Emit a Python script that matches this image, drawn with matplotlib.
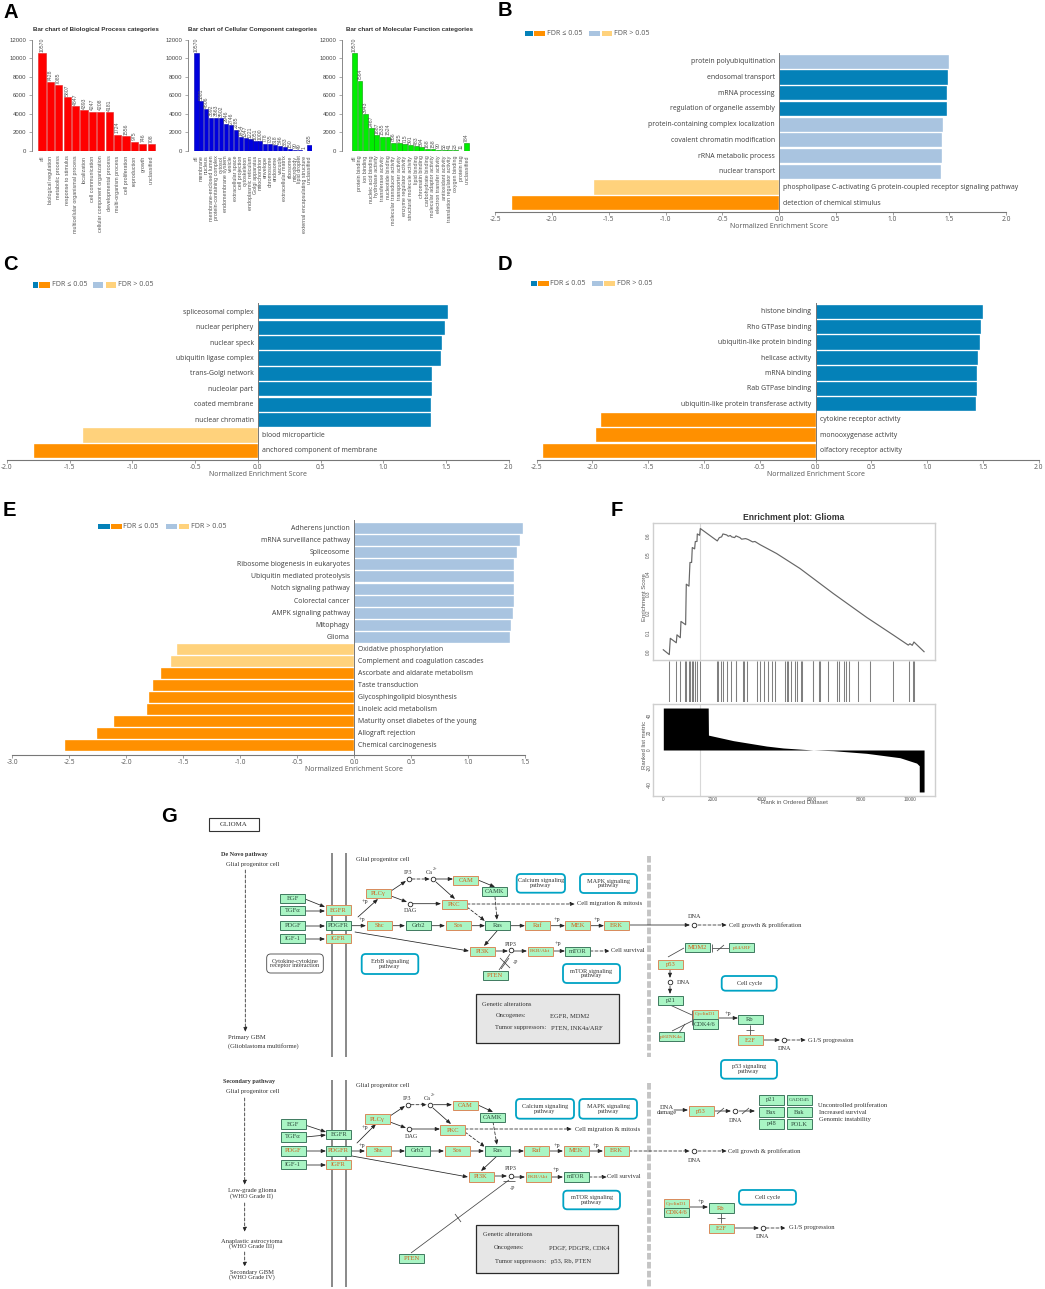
import matplotlib
matplotlib.use('Agg')
import matplotlib.pyplot as plt
from matplotlib.patches import FancyBboxPatch, Rectangle

W, H = 1045, 1289
SANS = ['Open Sans', 'DejaVu Sans']
ARIAL = ['Liberation Sans', 'DejaVu Sans']
SERIF = ['Liberation Serif', 'DejaVu Serif']

# ---------- Panel A ----------
bp_labels = ['all', 'biological regulation', 'metabolic process', 'response to stimulus',
             'multicellular organismal process', 'localization', 'cell communication',
             'cellular component organization', 'developmental process', 'multi-organism process',
             'cell proliferation', 'reproduction', 'growth', 'unclassified']
bp_values = [10570, 7428, 7085, 5807, 4847, 4393, 4247, 4208, 4181, 1724, 1556, 975, 746, 708]
cc_labels = ['all', 'membrane', 'nucleus', 'membrane-enclosed lumen', 'protein-containing complex',
             'cytosol', 'endomembrane system', 'vesicle', 'extracellular space', 'cell projection',
             'cytoskeleton', 'endoplasmic reticulum', 'Golgi apparatus', 'mitochondrion', 'envelope',
             'chromosome', 'endosome', 'vacuole', 'extracellular matrix', 'ribosome', 'microbody',
             'lipid droplet', 'external encapsulating structure', 'unclassified']
cc_values = [10570, 5381, 4506, 3592, 3563, 3502, 2946, 2746, 2285, 1454, 1347, 1221, 1051, 1000,
             778, 735, 618, 546, 383, 150, 90, 49, 1, 635]
mf_labels = ['all', 'protein binding', 'ion binding', 'nucleic acid binding', 'hydrolase activity',
             'transferase activity', 'nucleotide binding', 'molecular transducer activity',
             'transporter activity', 'enzyme regulator activity', 'structural molecule activity',
             'lipid binding', 'chromatin binding', 'carbohydrate binding', 'molecular adaptor activity',
             'electron transfer activity', 'antioxidant activity', 'translation regulator activity',
             'oxygen binding', 'protein tag', 'unclassified']
mf_values = [10570, 7564, 3943, 2467, 1687, 1535, 1524, 856, 825, 715, 591, 483, 394, 168, 158,
             90, 53, 41, 23, 11, 784]

# ---------- Panels B-E ----------
DB, LB, OR, LO = '#0481b8', '#a9c4e0', '#ff9000', '#ffd27c'
b_labels = ['protein polyubiquitination', 'endosomal transport', 'mRNA processing',
            'regulation of organelle assembly', 'protein-containing complex localization',
            'covalent chromatin modification', 'rRNA metabolic process', 'nuclear transport',
            'phospholipase C-activating G protein-coupled receptor signaling pathway',
            'detection of chemical stimulus']
b_values = [1.50, 1.49, 1.48, 1.48, 1.447, 1.44, 1.435, 1.43, -1.634, -2.35]
b_colors = [LB, DB, DB, DB, LB, LB, LB, LB, LO, OR]
c_labels = ['spliceosomal complex', 'nuclear periphery', 'nuclear speck', 'ubiquitin ligase complex',
            'trans-Golgi network', 'nucleolar part', 'coated membrane', 'nuclear chromatin',
            'blood microparticle', 'anchored component of membrane']
c_values = [1.512, 1.49, 1.469, 1.458, 1.39, 1.388, 1.383, 1.38, -1.394, -1.785]
c_colors = [DB] * 8 + [LO, OR]
d_labels = ['histone binding', 'Rho GTPase binding', 'ubiquitin-like protein binding', 'helicase activity',
            'mRNA binding', 'Rab GTPase binding', 'ubiquitin-like protein transferase activity',
            'cytokine receptor activity', 'monooxygenase activity', 'olfactory receptor activity']
d_values = [1.50, 1.486, 1.47, 1.46, 1.444, 1.444, 1.438, -1.92, -1.965, -2.444]
d_colors = [DB] * 7 + [OR] * 3
e_labels = ['Adherens junction', 'mRNA surveillance pathway', 'Spliceosome', 'Ribosome biogenesis in eukaryotes',
            'Ubiquitin mediated proteolysis', 'Notch signaling pathway', 'Colorectal cancer',
            'AMPK signaling pathway', 'Mitophagy', 'Glioma', 'Oxidative phosphorylation',
            'Complement and coagulation cascades', 'Ascorbate and aldarate metabolism', 'Taste transduction',
            'Glycosphingolipid biosynthesis', 'Linoleic acid metabolism', 'Maturity onset diabetes of the young',
            'Allograft rejection', 'Chemical carcinogenesis']
e_values = [1.483, 1.459, 1.429, 1.405, 1.405, 1.402, 1.402, 1.393, 1.378, 1.372,
            -1.559, -1.604, -1.692, -1.767, -1.804, -1.816, -2.106, -2.26, -2.535]
e_colors = [LB] * 10 + [LO] * 2 + [OR] * 7

# ---------- Panel F ----------
es_rank = [0, 243, 284, 527, 554, 689, 716, 905, 932, 1040, 1081, 1148, 1175, 1270, 1297, 1365, 1378,
           1473, 1500, 2189, 2270, 2364, 2418, 2567, 2634, 2716, 2770, 2891, 2945, 3107, 3175, 3337,
           3445, 3621, 3715, 3918, 4593, 5539, 6890, 8241, 9322, 9930, 9997, 10092, 10160, 10570]
es_score = [.01, -.015, .069, .046, .087, .072, .156, .139, .348, .338, .46, .46, .537, .53, .568, .568,
            .607, .60, .635, .571, .588, .592, .607, .602, .595, .599, .592, .588, .597, .588, .58, .583,
            .578, .566, .568, .552, .506, .429, .30, .177, .086, .034, .041, .033, .05, .0]
hit_ranks = [243, 527, 675, 892, 919, 1027, 1081, 1148, 1189, 1283, 1365, 1500, 2189, 2229, 2337, 2418,
             2567, 2729, 2931, 2945, 3215, 3283, 3378, 3810, 3918, 4080, 4256, 4404, 4526, 4945, 4999,
             5066, 5161, 5337, 5404, 5566, 5634, 6052, 6079, 6323, 6363, 6674, 7052, 7133, 7322, 7390,
             7539, 7903, 8363, 9322, 9970, 10132, 10160]
metric_rank = [0, 1820, 1830, 2837, 4188, 4863, 6079, 6890, 8241, 9592, 10268, 10375, 10376, 10570]
metric_value = [48, 48, 17, 10.7, 4.5, 2.3, 0, -0.8, -3.8, -8.8, -15, -18, -48, -48]

fig = plt.figure(figsize=(W / 100, H / 100), dpi=100, facecolor='white')
bg = fig.add_axes([0, 0, 1, 1])
bg.set_xlim(0, W)
bg.set_ylim(H, 0)
bg.axis('off')


def place(l, t, r, b):
    a = fig.add_axes([l / W, 1 - b / H, (r - l) / W, (b - t) / H])
    a.patch.set_alpha(0)
    return a


for s, x, y in [('A', 3, 12), ('B', 498, 11), ('C', 3, 265), ('D', 498, 265), ('E', 3, 511), ('F', 611, 510), ('G', 161, 817)]:
    bg.text(x, y, s, family=ARIAL, weight='bold', fontsize=14.5, ha='left', va='center', color='black')


# ---------- A ----------
def panel_a(labels, values, color, edge, left, right, axis_x, title, title_x):
    a = place(left, 40, right, 150.7)
    n = len(values)
    a.bar(range(n), values, width=0.86, color=color, edgecolor=edge, linewidth=0.4)
    a.set_xlim(-0.5, n - 0.5)
    a.set_ylim(0, 12000)
    for s in ['top', 'right', 'bottom']:
        a.spines[s].set_visible(False)
    a.spines['left'].set_position(('outward', (left - axis_x) * 0.72))
    a.spines['left'].set_color('#888888')
    a.spines['left'].set_linewidth(0.7)
    a.set_yticks(range(0, 12001, 2000))
    a.tick_params(axis='y', length=2.5, width=0.5, color='#888888', labelsize=4.3, labelcolor='#444444', pad=1.5)
    for t in a.get_yticklabels():
        t.set_family(ARIAL)
    a.set_xticks(range(n))
    a.set_xticklabels(labels, rotation=90, fontsize=3.9, color='#555555', family=ARIAL, va='top', ha='center')
    a.tick_params(axis='x', length=0, pad=3.5)
    for i, v in enumerate(values):
        a.text(i, v + 150, str(v), rotation=90, fontsize=3.7, color='#555555', family=ARIAL, ha='center', va='bottom', clip_on=False)
    bg.text(title_x, 29.3, title, family=ARIAL, weight='bold', fontsize=4.5, color='#333333', ha='center', va='center')


panel_a(bp_labels, bp_values, '#ff0000', '#e02020', 37.7, 155.5, 32, 'Bar chart of Biological Process categories', 96)
panel_a(cc_labels, cc_values, '#0000dd', '#0000aa', 194, 312, 188, 'Bar chart of Cellular Component categories', 253)
panel_a(mf_labels, mf_values, '#00ee00', '#009900', 351.5, 469.5, 342, 'Bar chart of Molecular Function categories', 410)


# ---------- B-E ----------
def panel_bar(labels, values, colors, xlo, xhi, pxlo, pxhi, top, bottom, first, spacing, barh, ticks, fs=4.95):
    a = place(pxlo, top, pxhi, bottom)
    a.set_xlim(xlo, xhi)
    a.set_ylim((bottom - first) / spacing, (top - first) / spacing)
    y = list(range(len(values)))
    a.barh(y, values, height=barh / spacing, color=colors, edgecolor='white', linewidth=0.25, zorder=2)
    a.axvline(0, color='#777777', lw=0.7, zorder=3)
    for s in ['top', 'left', 'right']:
        a.spines[s].set_visible(False)
    a.spines['bottom'].set_color('#777777')
    a.spines['bottom'].set_linewidth(0.8)
    a.set_yticks([])
    a.set_xticks(ticks)
    a.set_xticklabels(['%.1f' % t for t in ticks], family=SANS, fontsize=4.8, color='#555555')
    a.tick_params(axis='x', length=2, width=0.5, color='#777777', pad=1)
    off = 4.2 * (xhi - xlo) / (pxhi - pxlo)
    for yi, v, lab in zip(y, values, labels):
        if v > 0:
            a.text(-off, yi, lab, ha='right', va='center', family=SANS, fontsize=fs, color='#3c3c3c')
        else:
            a.text(off, yi, lab, ha='left', va='center', family=SANS, fontsize=fs, color='#3c3c3c')
    bg.text(pxlo + (0 - xlo) / (xhi - xlo) * (pxhi - pxlo), bottom + 14.3, 'Normalized Enrichment Score',
            family=SANS, fontsize=5.0, color='#555555', ha='center', va='center')


def legend(y, a1, a2, o1, o2, t1, b1, b2, l1, l2, t2, h=5.2):
    for x1, x2, c in [(a1, a2, DB), (o1, o2, OR), (b1, b2, LB), (l1, l2, LO)]:
        bg.add_patch(Rectangle((x1, y - h / 2), x2 - x1, h, facecolor=c, edgecolor='none'))
    bg.text(t1, y, 'FDR ≤ 0.05', family=SANS, fontsize=5.1, color='#555555', va='center')
    bg.text(t2, y, 'FDR > 0.05', family=SANS, fontsize=5.1, color='#555555', va='center')


panel_bar(b_labels, b_values, b_colors, -2.5, 2.0, 495.3, 1006, 52.7, 212, 61.7, 15.73, 14.2, [-2.5, -2, -1.5, -1, -.5, 0, .5, 1, 1.5, 2])
legend(33.3, 525.4, 532.5, 533.9, 544.9, 546.6, 589, 599.7, 601.5, 612, 614)
panel_bar(c_labels, c_values, c_colors, -2.0, 2.0, 6.8, 508.8, 303.3, 460, 312.3, 15.41, 14.2, [-2, -1.5, -1, -.5, 0, .5, 1, 1.5, 2])
legend(285, 33.1, 37.9, 38.9, 50, 51.7, 93, 103.4, 105.5, 116, 117.6)
panel_bar(d_labels, d_values, d_colors, -2.5, 2.0, 536.7, 1038.7, 302.7, 460, 311.7, 15.44, 14.2, [-2.5, -2, -1.5, -1, -.5, 0, .5, 1, 1.5, 2])
legend(283.7, 530.7, 537.1, 538.1, 548.8, 550.5, 592, 602.6, 604.3, 615, 616.7)
panel_bar(e_labels, e_values, e_colors, -3.0, 1.5, 12.4, 525, 520, 755.3, 528.7, 12.06, 11, [-3, -2.5, -2, -1.5, -1, -.5, 0, .5, 1, 1.5])
legend(526.7, 98.1, 109.5, 110.9, 121.6, 123.3, 165.6, 177, 178.7, 189.4, 191)

# ---------- F ----------
BOX = '#cfcfcf'
FX = ((653 - 663.3) / 0.02467, (935 - 663.3) / 0.02467)
top_ax = place(653, 523, 935, 660)
top_ax.plot(es_rank, es_score, color='#666666', lw=0.85)
top_ax.axvline(1500, color='#d8d8d8', lw=0.8, zorder=0)
top_ax.set_xlim(*FX)
top_ax.set_ylim(-(660 - 651.7) / 194, (651.7 - 523) / 194)
top_ax.set_xticks([])
top_ax.set_yticks([0, .1, .2, .3, .4, .5, .6])
top_ax.set_yticklabels(['0.0', '0.1', '0.2', '0.3', '0.4', '0.5', '0.6'], rotation=90, va='center', fontsize=3.4, color='#555555', family=ARIAL)
top_ax.tick_params(axis='y', length=0, pad=1.5)
for s in top_ax.spines.values():
    s.set_color(BOX)
    s.set_linewidth(1.0)
mid_ax = place(653, 661, 935, 702)
mid_ax.vlines(hit_ranks, 0, 1, color='#808080', lw=0.75)
mid_ax.set_xlim(*FX)
mid_ax.set_ylim(0, 1)
mid_ax.axis('off')
bot_ax = place(653, 704, 935, 796)
bot_ax.axvline(1500, color='#d8d8d8', lw=0.8, zorder=0)
bot_ax.fill_between(metric_rank, metric_value, 0, color='black', lw=0, zorder=2)
bot_ax.set_xlim(*FX)
bot_ax.set_ylim(-52.6, 52.6)
bot_ax.set_yticks([-40, -20, 0, 20, 40])
bot_ax.set_yticklabels(['-40', '-20', '0', '20', '40'], rotation=90, va='center', fontsize=3.4, color='#555555', family=ARIAL)
bot_ax.set_xticks([0, 2000, 4000, 6000, 8000, 10000])
bot_ax.set_xticklabels(['0', '2000', '4000', '6000', '8000', '10000'], fontsize=3.4, color='#555555', family=ARIAL)
bot_ax.tick_params(length=0, pad=1)
for s in bot_ax.spines.values():
    s.set_color(BOX)
    s.set_linewidth(1.0)
bg.text(794, 517, 'Enrichment plot: Glioma', family=ARIAL, weight='bold', fontsize=6.2, color='#333333', ha='center', va='center')
bg.text(644, 597, 'Enrichment Score', rotation=90, family=ARIAL, fontsize=4.3, color='#555555', ha='center', va='center')
bg.text(644, 745, 'Ranked list metric', rotation=90, family=ARIAL, fontsize=4.3, color='#555555', ha='center', va='center')
bg.text(794, 802.5, 'Rank in Ordered Dataset', family=ARIAL, fontsize=4.3, color='#555555', ha='center', va='center')

# ---------- G ----------
NODE_FILL = '#a9f5c4'
GREEN_E, ORANGE_E = '#3f7a5f', '#d98a5a'
ORANGE_T, DARK_T = '#d2601a', '#2f4f3f'
TXT = '#333333'


def node(label, cx, cy, kind='g', w=25, h=9.5, fs=4.7):
    edge = {'g': GREEN_E, 'o': ORANGE_E, 'm': GREEN_E}[kind]
    col = {'g': DARK_T, 'o': ORANGE_T, 'm': ORANGE_T}[kind]
    bg.add_patch(Rectangle((cx - w / 2, cy - h / 2), w, h, facecolor=NODE_FILL, edgecolor=edge, lw=0.7, zorder=4))
    bg.text(cx, cy, label, family=SERIF, fontsize=fs, color=col, ha='center', va='center', zorder=5)


def text(s, x, y, ha='center', fs=4.7, weight='normal'):
    bg.text(x, y, s, family=SERIF, fontsize=fs, color=TXT, ha=ha, va='center', weight=weight, zorder=5,
            linespacing=0.95)


def arr(x1, y1, x2, y2, dash=False, ms=5):
    bg.annotate('', xy=(x2, y2), xytext=(x1, y1), zorder=3,
                arrowprops=dict(arrowstyle='-|>,head_length=0.55,head_width=0.22', color='#222222', lw=0.55,
                                linestyle=(0, (4, 2.5)) if dash else '-', mutation_scale=ms, shrinkA=0, shrinkB=0))


def line(x1, y1, x2, y2, lw=0.55, c='#444444'):
    bg.plot([x1, x2], [y1, y2], color=c, lw=lw, zorder=3, solid_capstyle='butt')


def circle(x, y):
    bg.plot([x], [y], 'o', ms=3.3, mfc='white', mec='#222222', mew=0.6, zorder=5)


def pillbox(x1, y1, x2, y2, label, color='#00a3c4', lw=1.3, fs=4.5):
    bg.add_patch(FancyBboxPatch((x1 + 3, y1 + 3), x2 - x1 - 6, y2 - y1 - 6, boxstyle='round,pad=3,rounding_size=4',
                                facecolor='white', edgecolor=color, lw=lw, zorder=4))
    text(label, (x1 + x2) / 2, (y1 + y2) / 2, fs=fs)


def membrane(y1, y2):
    for x in (331.7, 346):
        line(x, y1, x, y2, lw=1.3, c='#808080')
    bg.plot([649.3, 649.3], [y1 + 3, y2], color='#c4c4c4', lw=2.8, ls=(0, (1.7, 0.6)), zorder=2)


def genetic(x1, y1, x2, y2, rows):
    bg.add_patch(Rectangle((x1, y1), x2 - x1, y2 - y1, facecolor='#e6e6e6', edgecolor='#2a2a2a', lw=0.9, zorder=2))
    for s, x, y in rows:
        text(s, x, y, ha='left')


bg.add_patch(Rectangle((209, 817.5), 50, 13.5, facecolor='white', edgecolor='#333333', lw=0.8))
text('GLIOMA', 234, 825, fs=5)

# diagram 1
membrane(853, 1057)
text('De Novo pathway', 220.7, 854.7, ha='left', weight='bold', fs=4.4)
text('Glial progenitor cell', 252.7, 864.7)
text('Glial progenitor cell', 356, 859, ha='left')
arr(245.3, 870, 245.3, 1032, dash=True)
text('Primary GBM', 227.7, 1038, ha='left')
text('(Glioblastoma multiforme)', 227.7, 1046, ha='left')
for lab, x, y, k in [('EGF', 292.7, 898.3, 'g'), ('TGFα', 292.7, 910.7, 'g'), ('PDGF', 292.7, 925.7, 'g'), ('IGF-1', 292.7, 938.7, 'g'),
                     ('EGFR', 338, 910, 'o'), ('PDGFR', 338, 925.7, 'g'), ('IGFR', 338, 938.7, 'o'),
                     ('PLCγ', 378.5, 893.3, 'o'), ('CAM', 465.7, 880.3, 'o'), ('CAMK', 494.3, 891.7, 'g'), ('PKC', 454, 904.3, 'o'),
                     ('Shc', 379.3, 925.7, 'o'), ('Grb2', 418.3, 925.7, 'g'), ('Sos', 458.3, 925.7, 'o'), ('Ras', 497.7, 925.7, 'g'),
                     ('Raf', 537.7, 925.7, 'o'), ('MEK', 577.7, 925.7, 'o'), ('ERK', 616.7, 925.7, 'o'),
                     ('PI3K', 482.3, 951.3, 'o'), ('PKB/Akt', 540, 951.3, 'o'), ('mTOR', 577.7, 951.3, 'g'), ('PTEN', 495.3, 975.3, 'm'),
                     ('MDM2', 697, 947.7, 'm'), ('p14ARF', 741.7, 947.7, 'm'), ('p53', 670.8, 964.3, 'o'), ('p21', 670.7, 1000.3, 'g'),
                     ('CyclinD1', 705, 1014.3, 'o'), ('CDK4/6', 705, 1024, 'g'), ('Rb', 750, 1019.7, 'g'), ('E2F', 750, 1040, 'o'),
                     ('p16INK4a', 671.7, 1036.7, 'm')]:
    node(lab, x, y, k, fs=3.9 if lab in ('PKB/Akt', 'p16INK4a', 'CyclinD1', 'p14ARF') else 4.7)
for x, y in [(409.3, 879.3), (433.3, 879.3), (410.3, 903.7), (511.3, 950.3), (694.3, 925), (669.7, 982), (783.7, 1040.3)]:
    circle(x, y)
for e in [(305, 899, 325, 907), (305, 911, 325, 911), (305, 926, 325, 926), (305, 939, 325, 939), (358, 917, 378, 899),
          (351, 925.7, 366, 925.7), (391, 891, 406, 881), (391, 896, 407, 902), (436, 879, 453, 879), (478, 880, 495, 887),
          (436, 882, 455, 899), (413, 903.7, 441, 903.7), (392, 925.7, 405, 925.7), (431, 925.7, 445, 925.7), (471, 925.7, 485, 925.7),
          (510, 925.7, 525, 925.7), (550, 925.7, 565, 925.7), (590, 925.7, 604, 925.7), (629, 925, 690, 925),
          (497, 931, 484, 946), (355, 932, 469, 951), (495, 951, 508, 951), (514, 951, 527, 951), (553, 951, 565, 951),
          (670, 970, 670, 978), (670, 986, 670, 994), (718, 1018, 738, 1018), (763, 1040, 780, 1040)]:
    arr(*e)
for e in [(412, 879, 430, 879), (467, 904, 575, 904), (467, 907, 485, 921), (495, 897, 497, 920), (698, 925, 727, 925),
          (590, 951, 610, 951), (787, 1040, 806, 1040)]:
    arr(*e, dash=True)
for e in [(499, 970, 510, 954), (501, 969, 509, 958), (684, 948, 668, 957), (729, 948, 712, 948), (712, 944, 712, 952),
          (670, 1005, 692, 1015), (672, 1031, 692, 1021), (692, 1010, 692, 1025), (750, 1025, 750, 1035), (746, 1030, 754, 1030),
          (717, 951, 724, 945), (679, 1033, 685, 1024), (500, 958, 510, 968)]:
    line(*e)
for s, x, y in [('IP3', 408, 873, ), ('DAG', 410, 911), ('PIP3', 511, 944), ('-P', 515, 963), ('+p', 365, 902), ('+p', 362, 919),
                ('+p', 557, 919), ('+p', 597, 919), ('+p', 558, 944), ('+p', 728, 1013), ('DNA', 694, 916), ('DNA', 683, 983), ('DNA', 784, 1048.5)]:
    text(s, x, y, fs=4.4)
text('Ca', 429, 872, fs=4.4)
text('2+', 435, 869, fs=3.2)
text('Cell migration & mitosis', 577, 904, ha='left')
text('Cell growth & proliferation', 729, 925, ha='left')
text('Cell survival', 611, 951, ha='left')
text('G1/S progression', 807.7, 1040.3, ha='left')
pillbox(516.7, 874, 565, 892.7, 'Calcium signaling\npathway')
pillbox(580, 874, 637, 893, 'MAPK signaling\npathway')
pillbox(361.7, 954, 418.3, 974, 'ErbB signaling\npathway')
pillbox(563, 964, 620, 983, 'mTOR signaling\npathway')
pillbox(266.7, 954, 323.3, 973, 'Cytokine-cytokine\nreceptor interaction', color='#444444', lw=0.6)
pillbox(721.7, 976, 776.7, 990.7, 'Cell cycle')
pillbox(721, 1060, 777, 1078.7, 'p53 signaling\npathway')
genetic(476, 994, 619, 1042.7, [('Genetic alterations', 481.7, 1004), ('Oncogenes:', 495.7, 1015.7), ('EGFR, MDM2', 550, 1015.7),
                                ('Tumor suppressors:', 495, 1028), ('PTEN, INK4a/ARF', 550.7, 1028)])

# diagram 2
membrane(1080, 1287)
text('Secondary pathway', 222.7, 1081, ha='left', weight='bold', fs=4.4)
text('Glial progenitor cell', 253, 1091)
text('Glial progenitor cell', 356, 1086, ha='left')
arr(244.7, 1098, 244.7, 1185, dash=True)
arr(244.7, 1203, 244.7, 1232, dash=True)
arr(244.7, 1252, 244.7, 1267, dash=True)
text('Low-grade glioma\n(WHO Grade II)', 252, 1193.5)
text('Anaplastic astrocytoma\n(WHO Grade III)', 252, 1244)
text('Secondary GBM\n(WHO Grade IV)', 252, 1275)
for lab, x, y, k in [('EGF', 293, 1124, 'g'), ('TGFα', 293, 1137, 'g'), ('PDGF', 293, 1151, 'm'), ('IGF-1', 293, 1164.7, 'g'),
                     ('EGFR', 338.7, 1134.7, 'g'), ('PDGFR', 338.7, 1151, 'm'), ('IGFR', 338.7, 1164.7, 'o'),
                     ('PLCγ', 377, 1119, 'o'), ('CAM', 465, 1105.7, 'o'), ('CAMK', 492.7, 1117.3, 'g'), ('PKC', 452.7, 1130, 'o'),
                     ('Shc', 378, 1151, 'o'), ('Grb2', 417.3, 1151, 'g'), ('Sos', 457.3, 1151, 'o'), ('Ras', 497.3, 1151, 'g'),
                     ('Raf', 536.7, 1151, 'o'), ('MEK', 576, 1151, 'o'), ('ERK', 616, 1151, 'o'),
                     ('PI3K', 481, 1177, 'o'), ('PKB/Akt', 538.3, 1177, 'o'), ('mTOR', 576, 1177, 'g'), ('PTEN', 411.7, 1258.7, 'm'),
                     ('p53', 701, 1111, 'o'), ('p21', 771.3, 1100, 'g'), ('GADD45', 799.3, 1100, 'g'), ('Bax', 771.3, 1112, 'g'), ('Bak', 799.3, 1112, 'g'),
                     ('p48', 771.3, 1124, 'g'), ('POLK', 799.3, 1124, 'g'), ('CyclinD1', 676.3, 1203.7, 'o'), ('CDK4/6', 676.3, 1212.7, 'm'),
                     ('Rb', 721, 1208, 'm'), ('E2F', 721, 1228.7, 'o')]:
    node(lab, x, y, k, fs=3.9 if lab in ('PKB/Akt', 'GADD45', 'CyclinD1') else 4.7)
for x, y in [(408, 1104.7), (430.3, 1104.7), (409, 1129), (510.7, 1176), (735.3, 1111.3), (694.3, 1150.7), (762.7, 1228.3)]:
    circle(x, y)
for e in [(305, 1125, 326, 1132), (305, 1137, 326, 1135), (305, 1151, 326, 1151), (305, 1165, 326, 1165), (357, 1143, 376, 1124),
          (352, 1151, 365, 1151), (390, 1116, 405, 1106), (390, 1122, 406, 1128), (433.5, 1104.7, 452, 1104.7), (478, 1105, 493, 1112),
          (433, 1108, 451, 1124), (412, 1129, 440, 1129), (391, 1151, 405, 1151), (430, 1151, 444, 1151), (470, 1151, 484, 1151),
          (510, 1151, 524, 1151), (549, 1151, 563, 1151), (589, 1151, 603, 1151), (497, 1156, 481, 1171), (352, 1156, 468, 1177),
          (494, 1176, 507, 1176), (514, 1177, 525, 1177), (551, 1177, 563, 1177), (674, 1110, 688, 1110), (714, 1111, 731, 1111),
          (739, 1111, 755, 1111), (689, 1207, 708, 1207), (734, 1228, 759, 1228)]:
    arr(*e)
for e in [(411, 1104.7, 427, 1104.7), (465, 1129, 572, 1129), (465, 1132, 485, 1147), (493, 1122, 497, 1145), (629, 1151, 690, 1151),
          (698, 1151, 727, 1151), (589, 1177, 607, 1177), (766, 1228, 786, 1228)]:
    arr(*e, dash=True)
for e in [(411, 1253, 509, 1180), (503, 1181, 515, 1181), (455, 1214, 461, 1222), (721, 1213, 721, 1223), (717, 1218, 725, 1218),
          (717, 1114, 724, 1108), (742, 1114, 749, 1108)]:
    line(*e)
for s, x, y in [('IP3', 407, 1098), ('DAG', 411, 1136), ('PIP3', 510.5, 1169), ('-P', 512, 1188), ('+p', 365, 1128), ('+p', 362, 1145),
                ('+p', 557, 1145), ('+p', 596, 1145), ('+p', 556, 1170), ('+p', 701, 1202), ('DNA', 735, 1120), ('DNA', 694, 1160), ('DNA', 762, 1236)]:
    text(s, x, y, fs=4.4)
text('Ca', 427, 1098, fs=4.4)
text('2+', 433, 1095, fs=3.2)
text('DNA\ndamage', 666.7, 1110)
text('Cell migration & mitosis', 575, 1129, ha='left')
text('Cell growth & proliferation', 728, 1151, ha='left')
text('Cell survival', 607, 1177, ha='left')
text('G1/S progression', 788.7, 1228, ha='left')
text('Uncontrolled proliferation', 818, 1105, ha='left')
text('Increased survival', 819, 1112.5, ha='left')
text('Genomic instability', 819, 1120, ha='left')
pillbox(516, 1099, 574, 1118.7, 'Calcium signaling\npathway')
pillbox(579.3, 1099, 637, 1118.7, 'MAPK signaling\npathway')
pillbox(563.3, 1190.7, 620, 1209.3, 'mTOR signaling\npathway')
pillbox(739, 1190, 796, 1204.7, 'Cell cycle')
genetic(475.7, 1224.7, 618.3, 1273.3, [('Genetic alterations', 482.7, 1234), ('Oncogenes:', 494, 1247.7), ('PDGF, PDGFR, CDK4', 549, 1247.7),
                                       ('Tumor suppressors:', 495, 1261), ('p53, Rb, PTEN', 551, 1261)])

fig.savefig('out.png', dpi=100, facecolor='white')
